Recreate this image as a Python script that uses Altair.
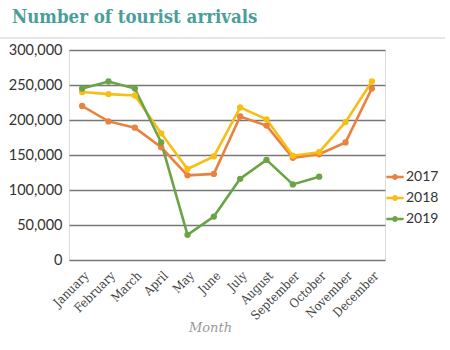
import altair as alt
import pandas as pd

months = ["January", "February", "March", "April", "May", "June", "July",
          "August", "September", "October", "November", "December"]
years = ["2017", "2018", "2019"]
v2017 = [220000, 198000, 189000, 161000, 121000, 123000, 205000, 192000, 146000, 151000, 168000, 245000]
v2018 = [240000, 237000, 235000, 181000, 130000, 148000, 218000, 201000, 149000, 154000, 197000, 255000]
v2019 = [245000, 255000, 245000, 168000, 36000, 62000, 116000, 143000, 108000, 119000]
colors = ["#E8823E", "#F7BE16", "#6BA446"]
title_text = "Number of tourist arrivals"

rows = []
for y, vals in zip(years, [v2017, v2018, v2019]):
    for m, v in zip(months, vals):
        rows.append({"Month": m, "Year": y, "Arrivals": v})
df = pd.DataFrame(rows)

legend_path = "M-1,0H1M-0.2,0A0.2,0.2,0,1,1,0.2,0A0.2,0.2,0,1,1,-0.2,0Z"

lines = alt.Chart(df).mark_line(
    strokeWidth=2.6, point=alt.OverlayMarkDef(size=40, filled=True)
).encode(
    x=alt.X("Month:N", sort=months, scale=alt.Scale(paddingOuter=0.5),
            axis=alt.Axis(title="Month", labelAngle=-45, labelFont="DejaVu Serif Condensed",
                          labelFontSize=12.5, labelColor="#444", ticks=False, domain=False,
                          grid=False, labelPadding=9, titleFont="DejaVu Serif",
                          titleFontStyle="italic", titleFontWeight="normal",
                          titleFontSize=13, titleColor="#999", titleBaseline="middle",
                          titleY=67, titleX=141)),
    y=alt.Y("Arrivals:Q", scale=alt.Scale(domain=[0, 300000]),
            axis=alt.Axis(title=None, format=",.0f", values=[0, 50000, 100000, 150000, 200000, 250000, 300000],
                          labelFont="Lato", labelFontSize=14.5, labelColor="#333",
                          ticks=False, domain=False, labelPadding=7,
                          gridColor="#777", gridWidth=1.5)),
    color=alt.Color("Year:N", scale=alt.Scale(domain=years, range=colors),
                    legend=alt.Legend(title=None, orient="none", legendX=316, legendY=117,
                                      symbolType=legend_path, symbolSize=300,
                                      symbolStrokeWidth=2.5, labelFont="Lato",
                                      labelFontSize=14, labelColor="#333",
                                      rowPadding=4, labelOffset=1)),
)

top_rule = alt.Chart(pd.DataFrame({"a": [0]})).mark_rule(color="#cfcfcf", strokeWidth=1).encode(
    x=alt.value(-69), x2=alt.value(376), y=alt.value(-12))

title = alt.Chart(pd.DataFrame({"t": [title_text]})).mark_text(
    align="left", baseline="alphabetic", font="DejaVu Serif Condensed", fontWeight="bold",
    fontSize=18.5, color="#4A9E98").encode(text="t:N", x=alt.value(-57), y=alt.value(-27))

chart = alt.layer(top_rule, lines, title).properties(
    width=316, height=210,
    autosize=alt.AutoSizeParams(type="none"),
    padding={"left": 69, "top": 50, "right": 65, "bottom": 90},
).configure_view(stroke=None).configure(background="white")

chart.save("out.html", embed_options={"renderer": "svg", "actions": False})
